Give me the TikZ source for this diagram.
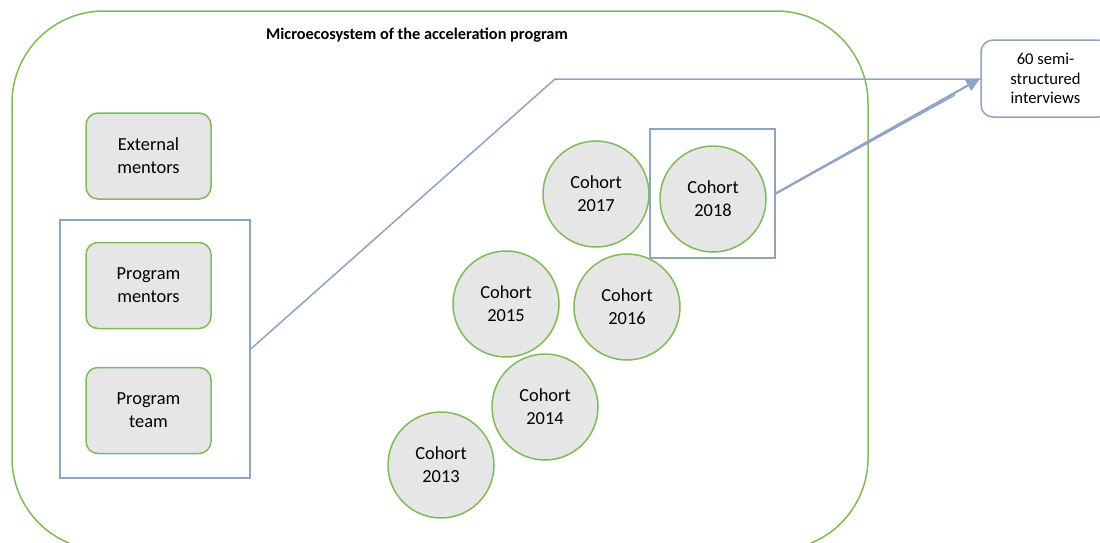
\documentclass[tikz,border=0pt]{standalone}
\usepackage{fontspec}
\setmainfont{Carlito}
\usetikzlibrary{arrows.meta}
\definecolor{grn}{RGB}{128,186,90}
\definecolor{gfill}{RGB}{230,230,230}
\definecolor{bgray}{RGB}{143,163,195}
\tikzset{
  actor/.style={draw=grn, line width=0.75pt, fill=gfill, rounded corners=6pt,
    minimum width=62.5pt, minimum height=43pt, align=center, inner sep=1pt,
    font=\fontsize{9.2pt}{11.5pt}\selectfont},
  cohort/.style={circle, draw=grn, line width=0.75pt, fill=gfill, minimum size=53pt,
    inner sep=0pt, align=center, font=\fontsize{9.2pt}{11.5pt}\selectfont},
  frame/.style={draw=bgray, line width=0.75pt},
  link/.style={draw=bgray, line width=0.75pt},
}
\begin{document}
\begin{tikzpicture}[x=0.5pt,y=-0.5pt]
\useasboundingbox (0,0) rectangle (1100,542);
% big ecosystem frame
\draw[grn, line width=0.75pt, rounded corners=46pt] (12,11) rectangle (868,550);
\node[font=\bfseries\fontsize{8.15pt}{9.5pt}\selectfont, anchor=center] (title) at (417,35) {Microecosystem of the acceleration program};
% left group
\node[frame, minimum width=95pt, minimum height=129pt] (leftbox) at (155,349) {};
\node[actor] (ext) at (148.5,156) {External\\mentors};
\node[actor] (pm) at (148.5,285.5) {Program\\mentors};
\node[actor] (pt) at (148.5,410.5) {Program\\team};
% cohorts
\node[frame, minimum width=62.5pt, minimum height=64.5pt] (box18) at (712.5,193.5) {};
\node[cohort] (c17) at (596,194) {Cohort\\2017};
\node[cohort] (c18) at (713,199) {Cohort\\2018};
\node[cohort] (c15) at (506,304) {Cohort\\2015};
\node[cohort] (c16) at (627,307) {Cohort\\2016};
\node[cohort] (c14) at (545,407) {Cohort\\2014};
\node[cohort] (c13) at (441,465) {Cohort\\2013};
% interviews
\node[frame, rounded corners=6pt, minimum width=64.5pt, minimum height=38.5pt, align=center,
  font=\fontsize{8.3pt}{9.6pt}\selectfont] (int) at (1045.5,78.5) {60 semi-\\structured\\interviews};
% connectors
\coordinate (bend) at (555,79);
\draw[link] (leftbox.east) -- (bend) -- (bend -| int.west);
\draw[link, line width=1.1pt, -{Triangle[length=7pt,width=6pt]}] (box18.east) -- (int.west);
\coordinate (side) at (955,95);
\draw[link] (box18.east) -- (side);
\end{tikzpicture}
\end{document}
